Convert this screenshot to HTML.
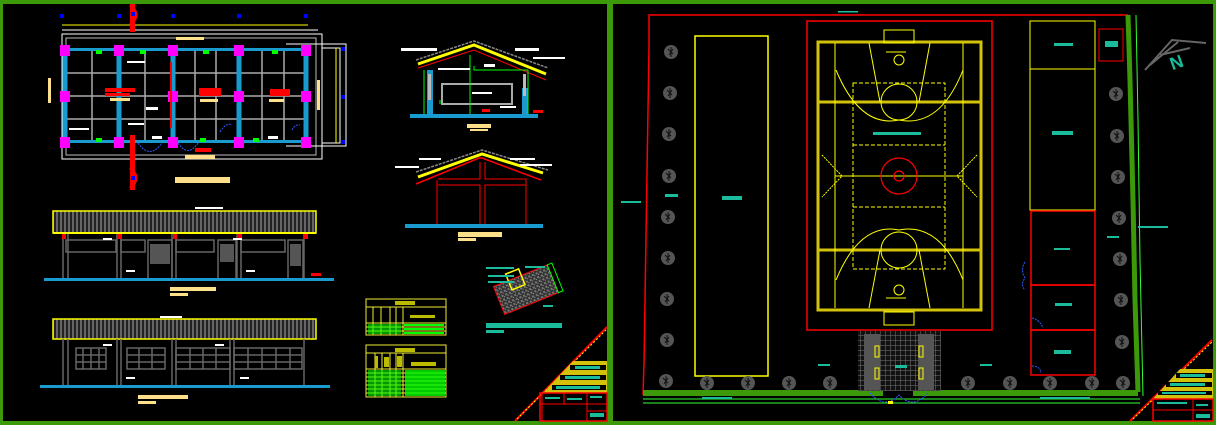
<!DOCTYPE html>
<html><head><meta charset="utf-8"><style>
html,body{margin:0;padding:0;background:#000;width:1216px;height:425px;overflow:hidden}
svg{display:block}
</style></head><body>
<svg width="1216" height="425" viewBox="0 0 1216 425" xmlns="http://www.w3.org/2000/svg" font-family="Liberation Sans, sans-serif">
<defs>
<pattern id="roof" width="4" height="4" patternUnits="userSpaceOnUse"><rect width="4" height="4" fill="#222"/><rect width="2" height="4" fill="#666"/></pattern>
<pattern id="gravel" width="4" height="4" patternUnits="userSpaceOnUse"><rect width="4" height="4" fill="#333"/><rect width="2" height="2" fill="#777"/><rect x="2" y="2" width="1" height="1" fill="#999"/></pattern>
<pattern id="grid" width="5" height="5" patternUnits="userSpaceOnUse"><rect width="5" height="5" fill="#111"/><path d="M0 0H5M0 0V5" stroke="#777" stroke-width="1"/></pattern>
<g id="tree"><circle r="7" fill="#555"/><path d="M-3 -3L2 2M2 -3L-2 3M0 -5V5" stroke="#111" stroke-width="1"/></g>
</defs>
<rect width="1216" height="425" fill="#000"/>
<!-- frame -->
<g fill="#3c9a0a">
<rect x="0" y="0" width="1216" height="4"/>
<rect x="0" y="421" width="1216" height="4"/>
<rect x="0" y="0" width="3" height="425"/>
<rect x="607" y="0" width="6" height="425"/>
<rect x="1213" y="0" width="3" height="425"/>
</g>

<!-- ===== LEFT PANEL: FLOOR PLAN ===== -->
<g stroke="#fff" stroke-width="1" fill="none">
<rect x="62" y="34" width="260" height="125"/>
<rect x="66" y="38" width="250" height="117" stroke="#bbb"/>
<path d="M62 30H318M322 48H340V143H322" />
<path d="M286 44H346V146H286"/>
</g>
<path d="M62 25H308" stroke="#ff0" stroke-width="1"/>
<path d="M336 48V143" stroke="#ff0"/>
<g fill="#0000ff"><rect x="60" y="14" width="4" height="4"/><rect x="117" y="14" width="4" height="4"/><rect x="171" y="14" width="4" height="4"/><rect x="237" y="14" width="4" height="4"/><rect x="304" y="14" width="4" height="4"/><rect x="341" y="47" width="4" height="4"/><rect x="341" y="95" width="4" height="4"/><rect x="341" y="140" width="4" height="4"/></g>
<g stroke="#aaa" stroke-width="1.5">
<path d="M64 73H306M64 96H306M64 119H306"/>
<path d="M92 48V143M145 48V143M195 48V143M216 48V143M262 48V143M284 48V143"/>
</g>
<g stroke="#1a9bd0" stroke-width="5">
<path d="M65 51V142M119 51V142M173 51V142M239 51V142M306 51V142"/>
</g>
<rect x="65" y="48" width="241" height="3" fill="#1a9bd0"/>
<rect x="65" y="140" width="241" height="3" fill="#1a9bd0"/>
<g fill="#f0f">
<rect x="60" y="45" width="10" height="11"/><rect x="114" y="45" width="10" height="11"/><rect x="168" y="45" width="10" height="11"/><rect x="234" y="45" width="10" height="11"/><rect x="301" y="45" width="10" height="11"/>
<rect x="60" y="91" width="10" height="11"/><rect x="168" y="91" width="10" height="11"/><rect x="234" y="91" width="10" height="11"/><rect x="301" y="91" width="10" height="11"/>
<rect x="60" y="137" width="10" height="11"/><rect x="114" y="137" width="10" height="11"/><rect x="168" y="137" width="10" height="11"/><rect x="234" y="137" width="10" height="11"/><rect x="301" y="137" width="10" height="11"/>
</g>
<g fill="#f00">
<rect x="105" y="88" width="30" height="4"/><rect x="105" y="93" width="25" height="3"/>
<rect x="199" y="88" width="22" height="8"/>
<rect x="270" y="89" width="20" height="7"/>
<rect x="170" y="62" width="2" height="66"/>
<rect x="130" y="4" width="5" height="28"/><rect x="130" y="135" width="5" height="55"/>
<rect x="195" y="148" width="16" height="4"/>
</g>
<g fill="#ffe08a">
<rect x="110" y="98" width="20" height="3"/><rect x="200" y="99" width="18" height="3"/><rect x="269" y="99" width="15" height="3"/>
<rect x="175" y="177" width="55" height="6"/><rect x="185" y="155" width="30" height="4"/><rect x="176" y="37" width="28" height="3"/>
<rect x="48" y="78" width="3" height="25"/><rect x="317" y="80" width="3" height="30"/>
</g>
<g fill="#0f0"><rect x="96" y="50" width="6" height="4"/><rect x="140" y="50" width="6" height="4"/><rect x="203" y="50" width="6" height="4"/><rect x="272" y="50" width="6" height="4"/><rect x="96" y="138" width="6" height="4"/><rect x="200" y="138" width="6" height="4"/><rect x="253" y="138" width="6" height="4"/></g>
<g fill="#fff"><rect x="127" y="61" width="18" height="2"/><rect x="146" y="107" width="12" height="3"/><rect x="69" y="128" width="20" height="2"/><rect x="128" y="123" width="16" height="2"/><rect x="152" y="136" width="10" height="3"/><rect x="268" y="136" width="10" height="3"/></g>
<path d="M138 143Q150 160 162 143M178 143Q188 158 198 143M220 132Q226 122 232 125M292 130Q295 124 300 125" stroke="#2a5aff" stroke-dasharray="2 1" fill="none"/>
<path d="M130 5Q142 15 130 25M130 168Q142 178 130 188" stroke="#f00" stroke-width="3" fill="none"/>
<rect x="131" y="12" width="4" height="4" fill="#00f"/><rect x="131" y="176" width="4" height="4" fill="#00f"/>

<!-- Elevation 1 -->
<rect x="53" y="211" width="263" height="22" fill="url(#roof)" stroke="#ff0" stroke-width="1.5"/>
<rect x="53" y="232" width="263" height="2" fill="#ff0"/>
<g stroke="#666" stroke-width="1.5" fill="none">
<path d="M63 234V280M68 234V280M117 234V280M121 234V280M172 234V280M176 234V280M237 234V280M241 234V280M304 234V280"/>
<rect x="66" y="240" width="50" height="12"/><rect x="121" y="240" width="24" height="12"/><rect x="148" y="240" width="24" height="40"/><rect x="176" y="240" width="38" height="12"/><rect x="218" y="240" width="18" height="40"/><rect x="241" y="240" width="44" height="12"/><rect x="288" y="240" width="15" height="40"/>
</g>
<g fill="#555"><rect x="150" y="244" width="20" height="20"/><rect x="220" y="244" width="14" height="18"/><rect x="290" y="244" width="11" height="22"/></g>
<rect x="44" y="278" width="290" height="3" fill="#1a9bd0"/>
<g fill="#f00"><rect x="62" y="234" width="4" height="5"/><rect x="117" y="234" width="4" height="5"/><rect x="173" y="234" width="4" height="5"/><rect x="237" y="234" width="4" height="5"/><rect x="304" y="234" width="4" height="5"/><rect x="311" y="273" width="10" height="3"/></g>
<rect x="170" y="287" width="46" height="4" fill="#ffe08a"/><rect x="170" y="293" width="18" height="3" fill="#ffe08a"/>
<rect x="195" y="207" width="28" height="2" fill="#fff"/>
<!-- Elevation 2 -->
<rect x="53" y="319" width="263" height="20" fill="url(#roof)" stroke="#ff0" stroke-width="1.5"/>
<g stroke="#666" stroke-width="1.5" fill="none">
<path d="M63 339V387M68 339V387M117 339V387M121 339V387M172 339V387M176 339V387M230 339V387M234 339V387M304 339V387"/>
<rect x="76" y="348" width="30" height="21"/><rect x="127" y="348" width="38" height="21"/><rect x="176" y="348" width="54" height="21"/><rect x="234" y="348" width="68" height="21"/>
<path d="M76 355H106M76 362H106M83 348V369M91 348V369M99 348V369M127 355H165M127 362H165M139 348V369M152 348V369M176 355H230M176 362H230M190 348V369M203 348V369M216 348V369M234 355H302M234 362H302M248 348V369M262 348V369M276 348V369M290 348V369"/>
</g>
<rect x="40" y="385" width="290" height="3" fill="#1a9bd0"/>
<rect x="138" y="395" width="50" height="4" fill="#ffe08a"/><rect x="138" y="401" width="18" height="3" fill="#ffe08a"/>
<rect x="160" y="316" width="22" height="2" fill="#fff"/>
<g fill="#fff"><rect x="103" y="238" width="9" height="2"/><rect x="233" y="238" width="9" height="2"/><rect x="126" y="270" width="9" height="2"/><rect x="246" y="270" width="9" height="2"/><rect x="103" y="344" width="9" height="2"/><rect x="215" y="344" width="9" height="2"/><rect x="126" y="377" width="9" height="2"/><rect x="240" y="377" width="9" height="2"/></g>

<!-- Section 1 -->
<path d="M418 64L474 45L546 74" stroke="#ff0" stroke-width="3" fill="none"/>
<path d="M418 68L474 50L546 80" stroke="#f00" stroke-width="1" fill="none"/>
<path d="M416 60L474 41L548 68" stroke="#888" stroke-width="1.5" fill="none" stroke-dasharray="3 1"/>
<rect x="427" y="70" width="6" height="46" fill="#1a9bd0"/><rect x="522" y="88" width="6" height="28" fill="#1a9bd0"/>
<rect x="428" y="74" width="3" height="26" fill="#bbb"/><rect x="523" y="74" width="3" height="22" fill="#bbb"/>
<rect x="442" y="84" width="70" height="20" fill="none" stroke="#aaa" stroke-width="2"/>
<path d="M424 70V117M470 55V116M474 66V70H528V70M528 70V117M440 100V104" stroke="#0f0" fill="none"/>
<rect x="410" y="114" width="128" height="4" fill="#1a9bd0"/>
<rect x="533" y="110" width="10" height="3" fill="#f00"/><rect x="482" y="109" width="8" height="3" fill="#f00"/>
<rect x="467" y="124" width="24" height="4" fill="#ffe08a"/><rect x="470" y="129" width="18" height="2" fill="#ffe08a"/>
<g fill="#fff"><rect x="401" y="48" width="36" height="3"/><rect x="515" y="48" width="24" height="3"/><rect x="533" y="57" width="32" height="2"/><rect x="484" y="64" width="11" height="3"/><rect x="438" y="68" width="32" height="2"/><rect x="472" y="92" width="20" height="2"/><rect x="500" y="106" width="16" height="2"/></g>
<!-- Section 2 -->
<path d="M418 177L482 154L543 173" stroke="#ff0" stroke-width="3" fill="none"/>
<path d="M416 184L479 158L482 158L541 180" stroke="#f00" stroke-width="1.5" fill="none"/>
<path d="M416 172L482 150L548 170" stroke="#888" stroke-width="1.5" fill="none" stroke-dasharray="3 1"/>
<path d="M437 180V225M438 179H480V162M485 162V179H526V180M526 180V225M438 185H480V225M485 225V185H526M480 185V225M485 185V225" stroke="#f00" stroke-width="1" fill="none"/>
<rect x="405" y="224" width="138" height="4" fill="#1a9bd0"/>
<rect x="458" y="232" width="44" height="5" fill="#ffe08a"/><rect x="458" y="238" width="18" height="3" fill="#ffe08a"/>
<g fill="#fff"><rect x="395" y="166" width="24" height="2"/><rect x="419" y="158" width="22" height="2"/><rect x="510" y="158" width="25" height="2"/><rect x="520" y="164" width="32" height="2"/></g>
<!-- Detail -->
<g transform="translate(525 290) rotate(-22)">
<rect x="-28" y="-15" width="58" height="30" fill="url(#gravel)" stroke="#f00"/>
<rect x="-12" y="-22" width="14" height="17" fill="none" stroke="#ff0" stroke-width="1.5"/>
<rect x="30" y="-15" width="5" height="30" fill="none" stroke="#0f0"/>
</g>
<g fill="#1abc9c"><rect x="486" y="323" width="76" height="5"/><rect x="486" y="330" width="18" height="3"/><rect x="486" y="267" width="28" height="2"/><rect x="525" y="266" width="20" height="2"/><rect x="488" y="275" width="26" height="2"/><rect x="488" y="281" width="26" height="2"/><rect x="543" y="305" width="10" height="2"/></g>
<!-- Tables -->
<g stroke="#ee3" fill="none" stroke-width="1"><rect x="366" y="299" width="80" height="36"/><path d="M366 307H446M366 323H446M366 327H446M366 331H446M373 307V335M381 307V335M390 307V335M396 307V335M403 307V335"/>
<rect x="366" y="345" width="80" height="52"/><path d="M366 353H446M366 369H446M366 373H446M366 377H446M366 381H446M366 385H446M366 389H446M366 393H446M375 353V397M382 353V397M390 353V397M396 353V397M403 353V397"/></g>
<g fill="#bb0"><rect x="395" y="301" width="20" height="4"/><rect x="410" y="315" width="25" height="3"/><rect x="395" y="348" width="20" height="4"/><rect x="411" y="362" width="25" height="4"/><rect x="375" y="356" width="3" height="12"/><rect x="384" y="357" width="5" height="10"/><rect x="397" y="356" width="5" height="11"/></g>
<g fill="#0f0"><rect x="404" y="324" width="40" height="2"/><rect x="404" y="328" width="40" height="2"/><rect x="404" y="332" width="40" height="2"/><rect x="368" y="324" width="33" height="10" opacity="0.6"/><rect x="405" y="370" width="40" height="26" opacity="0.8"/><rect x="368" y="370" width="33" height="26" opacity="0.6"/></g>
<!-- Title block left -->
<path d="M515 421L607 327" stroke="#f00" stroke-width="2"/>
<path d="M517 419L607 329" stroke="#ff0" stroke-width="1" stroke-dasharray="2 2"/>
<polygon points="543,393 573,361 607,361 607,393" fill="#d4c20a"/>
<g fill="#000"><rect x="570" y="365" width="36" height="5"/><rect x="560" y="375" width="46" height="5"/><rect x="552" y="385" width="54" height="5"/></g>
<g fill="#1abc9c"><rect x="575" y="366" width="25" height="3"/><rect x="565" y="376" width="35" height="3"/><rect x="556" y="386" width="44" height="3"/></g>
<rect x="540" y="393" width="67" height="28" fill="none" stroke="#f00" stroke-width="1.5"/>
<path d="M542 393V421M564 393V404M587 393V421M540 404H607M587 411H607" stroke="#f00"/>
<g fill="#1abc9c"><rect x="545" y="397" width="15" height="2"/><rect x="567" y="398" width="15" height="2"/><rect x="590" y="396" width="12" height="2"/><rect x="590" y="413" width="14" height="4"/></g>

<!-- ===== RIGHT PANEL: SITE PLAN ===== -->
<path d="M1128 15H649V47L648 110L647 173L646 237L645 300L644 363L643 395" stroke="#f00" stroke-width="1.5" fill="none"/>
<rect x="838" y="11" width="20" height="1.5" fill="#1abc9c"/>
<path d="M1128 15L1130 80L1133 200L1135 300L1138 392" stroke="#3c9a0a" stroke-width="5" fill="none"/>
<path d="M1136 15L1138 120L1140 260L1143 396" stroke="#3f3" stroke-width="1" fill="none"/>
<rect x="643" y="390" width="240" height="6" fill="#3c9a0a"/>
<rect x="913" y="390" width="225" height="6" fill="#3c9a0a"/>
<path d="M643 399H1140M643 403H1140" stroke="#3f3" stroke-width="1"/>
<rect x="695" y="36" width="73" height="340" fill="none" stroke="#ff0" stroke-width="1.5"/>
<rect x="722" y="196" width="20" height="4" fill="#1abc9c"/>
<rect x="665" y="194" width="13" height="3" fill="#1abc9c"/>
<rect x="621" y="201" width="20" height="2" fill="#1abc9c"/>
<!-- court -->
<rect x="807" y="21" width="185" height="309" fill="none" stroke="#f00" stroke-width="1.5"/>
<rect x="818" y="42" width="163" height="268" fill="none" stroke="#d4c20a" stroke-width="3"/>
<path d="M818 102H981M818 250H981" stroke="#d4c20a" stroke-width="3"/>
<g stroke="#ff0" stroke-width="1" fill="none">
<rect x="884" y="30" width="30" height="13"/><rect x="884" y="312" width="30" height="13"/>
<path d="M835 43V308M963 43V308M835 176H963"/>
<path d="M869 43L880 102M930 43L919 102M869 308L880 250M930 308L919 250"/>
<path d="M886 52H906M886 298H906"/>
<circle cx="899" cy="60" r="5"/><circle cx="899" cy="290" r="5"/>
<path d="M836 70Q860 128 899 120Q940 128 963 70M836 280Q860 222 899 230Q940 222 963 280"/>
<circle cx="899" cy="102" r="18"/><circle cx="899" cy="250" r="18"/>
<rect x="853" y="83" width="92" height="186" stroke-dasharray="4 2"/>
<path d="M853 145H945M853 207H945" stroke-dasharray="4 2"/>
<path d="M822 155L842 176L822 197M977 155L957 176L977 197" stroke-dasharray="2 1"/>
</g>
<circle cx="899" cy="176" r="18" fill="none" stroke="#f00" stroke-width="1.2"/>
<circle cx="899" cy="176" r="5" fill="none" stroke="#f00" stroke-width="1.2"/>
<rect x="873" y="132" width="48" height="3" fill="#1abc9c"/>
<!-- entrance -->
<rect x="858" y="331" width="83" height="60" fill="url(#grid)"/>
<rect x="864" y="334" width="16" height="56" fill="#555"/><rect x="918" y="334" width="16" height="56" fill="#555"/>
<g fill="none" stroke="#ff0"><rect x="875" y="346" width="4" height="11"/><rect x="875" y="368" width="4" height="11"/><rect x="919" y="346" width="4" height="11"/><rect x="919" y="368" width="4" height="11"/></g>
<rect x="895" y="365" width="12" height="3" fill="#1abc9c"/>
<path d="M870 393Q885 410 899 395Q913 410 928 393" stroke="#2a5aff" stroke-dasharray="2 1" fill="none"/>
<rect x="888" y="401" width="5" height="3" fill="#ff0"/>
<!-- right buildings -->
<rect x="1030" y="21" width="65" height="48" fill="none" stroke="#ff0" stroke-width="1"/>
<rect x="1030" y="69" width="65" height="141" fill="none" stroke="#ff0" stroke-width="1"/>
<g fill="none" stroke="#f00" stroke-width="1.5"><rect x="1031" y="211" width="64" height="74"/><rect x="1031" y="285" width="64" height="45"/><rect x="1031" y="330" width="64" height="45"/></g>
<rect x="1099" y="29" width="24" height="32" fill="none" stroke="#f00"/>
<g fill="#1abc9c"><rect x="1054" y="43" width="19" height="3"/><rect x="1052" y="131" width="21" height="4"/><rect x="1054" y="248" width="16" height="2"/><rect x="1055" y="303" width="17" height="3"/><rect x="1054" y="350" width="17" height="4"/><rect x="1105" y="41" width="13" height="6"/><rect x="1107" y="236" width="12" height="2"/><rect x="1138" y="226" width="30" height="2"/><rect x="980" y="364" width="12" height="2"/><rect x="1040" y="397" width="50" height="2"/><rect x="702" y="397" width="30" height="2"/><rect x="818" y="364" width="12" height="2"/></g>
<path d="M1025 262Q1020 270 1025 278Q1020 285 1025 290M1032 318Q1040 320 1043 328M1032 366Q1040 366 1041 373" stroke="#2a5aff" stroke-dasharray="2 1" fill="none"/>
<!-- north -->
<path d="M1145 70L1172 40L1206 43M1160 55L1190 48M1150 65L1178 42" stroke="#666" stroke-width="2" fill="none"/>
<text x="1170" y="68" font-size="18" font-weight="bold" fill="#1abc9c" transform="rotate(-20 1178 62)">N</text>
<!-- trees -->
<g>
<use href="#tree" x="671" y="52"/><use href="#tree" x="670" y="93"/><use href="#tree" x="669" y="134"/><use href="#tree" x="669" y="176"/><use href="#tree" x="668" y="217"/><use href="#tree" x="668" y="258"/><use href="#tree" x="667" y="299"/><use href="#tree" x="667" y="340"/><use href="#tree" x="666" y="381"/>
<use href="#tree" x="707" y="383"/><use href="#tree" x="748" y="383"/><use href="#tree" x="789" y="383"/><use href="#tree" x="830" y="383"/>
<use href="#tree" x="968" y="383"/><use href="#tree" x="1010" y="383"/><use href="#tree" x="1050" y="383"/><use href="#tree" x="1092" y="383"/>
<use href="#tree" x="1116" y="94"/><use href="#tree" x="1117" y="136"/><use href="#tree" x="1118" y="177"/><use href="#tree" x="1119" y="218"/><use href="#tree" x="1120" y="259"/><use href="#tree" x="1121" y="300"/><use href="#tree" x="1122" y="342"/><use href="#tree" x="1123" y="383"/>
</g>
<!-- title block right -->
<path d="M1130 421L1212 340" stroke="#f00" stroke-width="2"/>
<path d="M1133 419L1212 342" stroke="#ff0" stroke-width="1" stroke-dasharray="2 2"/>
<polygon points="1153,399 1180,369 1213,369 1213,399" fill="#d4c20a"/>
<g fill="#000"><rect x="1176" y="373" width="36" height="5"/><rect x="1166" y="382" width="46" height="5"/><rect x="1158" y="391" width="54" height="4"/></g>
<g fill="#1abc9c"><rect x="1180" y="374" width="25" height="3"/><rect x="1170" y="383" width="35" height="3"/><rect x="1162" y="392" width="44" height="2"/></g>
<rect x="1153" y="399" width="60" height="22" fill="none" stroke="#f00" stroke-width="1.5"/>
<path d="M1193 399V421M1153 410H1213" stroke="#f00"/>
<g fill="#1abc9c"><rect x="1157" y="402" width="30" height="2"/><rect x="1196" y="404" width="12" height="2"/><rect x="1196" y="414" width="14" height="4"/></g>
</svg>
</body></html>
